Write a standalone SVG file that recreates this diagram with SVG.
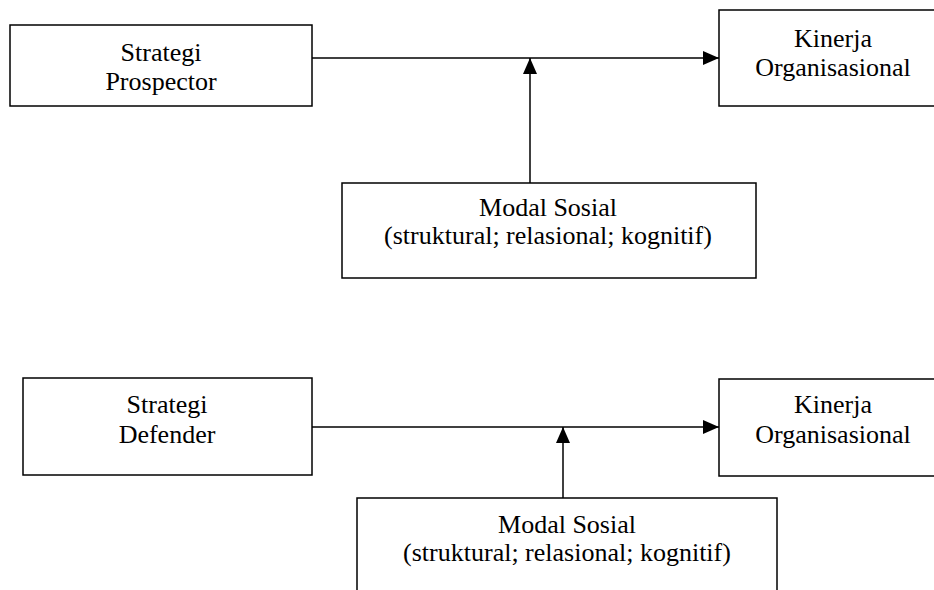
<svg xmlns="http://www.w3.org/2000/svg" width="934" height="590" viewBox="0 0 934 590">
<style>
  .box { fill: #ffffff; stroke: #000000; stroke-width: 1.5; }
  .lbl { font-family: 'Liberation Serif', 'DejaVu Serif', serif; font-size: 26px; fill: #000000; text-anchor: middle; }
  .conn { stroke: #000000; stroke-width: 1.5; fill: none; marker-end: url(#arrow); }
</style>
<defs>
  <marker id="arrow" markerUnits="userSpaceOnUse" markerWidth="17" markerHeight="15" refX="16" refY="7" orient="auto">
    <path d="M0,0 L16,7 L0,14 Z" fill="#000000"/>
  </marker>
</defs>
<rect width="934" height="590" fill="#ffffff"/>

<g id="prospector" font-family="Liberation Serif, serif">
  <rect class="box" x="10" y="25" width="302" height="81"/>
  <text class="lbl" x="161" y="61">Strategi</text>
  <text class="lbl" x="161" y="90">Prospector</text>
</g>
<g id="kinerja-1" font-family="Liberation Serif, serif">
  <rect class="box" x="719" y="10" width="240" height="96"/>
  <text class="lbl" x="833" y="47">Kinerja</text>
  <text class="lbl" x="833" y="76">Organisasional</text>
</g>
<g id="modal-1" font-family="Liberation Serif, serif">
  <rect class="box" x="342" y="183" width="414" height="95"/>
  <text class="lbl" x="548" y="216">Modal Sosial</text>
  <text class="lbl" x="548" y="244">(struktural; relasional; kognitif)</text>
</g>

<g id="defender" font-family="Liberation Serif, serif">
  <rect class="box" x="23" y="378" width="289" height="97"/>
  <text class="lbl" x="167" y="413">Strategi</text>
  <text class="lbl" x="167" y="443">Defender</text>
</g>
<g id="kinerja-2" font-family="Liberation Serif, serif">
  <rect class="box" x="719" y="379" width="240" height="97"/>
  <text class="lbl" x="833" y="413">Kinerja</text>
  <text class="lbl" x="833" y="443">Organisasional</text>
</g>
<g id="modal-2" font-family="Liberation Serif, serif">
  <rect class="box" x="357" y="498" width="420" height="110"/>
  <text class="lbl" x="567" y="533">Modal Sosial</text>
  <text class="lbl" x="567" y="561">(struktural; relasional; kognitif)</text>
</g>

<g id="connectors">
  <line class="conn" x1="312" y1="58" x2="719" y2="58"/>
  <line class="conn" x1="530" y1="183" x2="530" y2="58"/>
  <line class="conn" x1="312" y1="427" x2="719" y2="427"/>
  <line class="conn" x1="563" y1="498" x2="563" y2="427"/>
</g>
</svg>
